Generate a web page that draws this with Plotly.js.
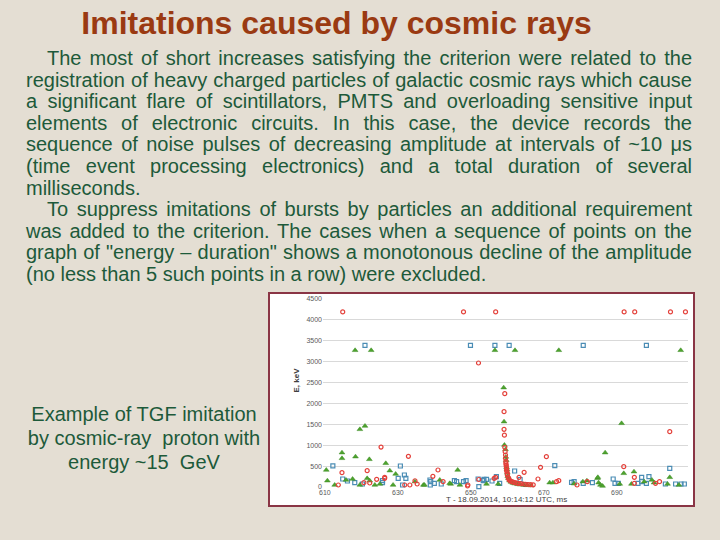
<!DOCTYPE html>
<html>
<head>
<meta charset="utf-8">
<script src="https://cdn.plot.ly/plotly-3.0.1.min.js"></script>
<style>
  html, body { margin:0; padding:0; }
  body { width:720px; height:540px; background:#e4ded3; position:relative; overflow:hidden;
         font-family:"Liberation Sans", Arial, sans-serif; }
  #title { position:absolute; left:0; top:5px; width:673px; text-align:center;
           font-size:32px; font-weight:bold; color:#9a3a12; line-height:36px; }
  #body { position:absolute; left:26px; top:48px; width:666px; color:#1d5a3a;
          font-size:20px; line-height:21.6px; }
  #body div { text-align:justify; text-align-last:justify; }
  #body div.last { text-align:left; text-align-last:left; }
  #body div.ind { padding-left:21px; }
  #caption { position:absolute; left:24px; top:402px; width:240px; text-align:center;
             color:#1d5a3a; font-size:20px; line-height:24px; }
  #frame { position:absolute; left:268px; top:292px; width:427px; height:215px;
           box-sizing:border-box; border:2px solid #8a3545; background:#fff; }
  #chart { width:423px; height:211px; }
</style>
</head>
<body>
<div id="title">Imitations caused by cosmic rays</div>
<div id="body">
  <div class="ind">The most of short increases satisfying the criterion were related to the</div>
  <div>registration of heavy charged particles of galactic cosmic rays which cause</div>
  <div>a significant flare of scintillators, PMTS and overloading sensitive input</div>
  <div>elements of electronic circuits. In this case, the device records the</div>
  <div>sequence of noise pulses of decreasing amplitude at intervals of ~10 μs</div>
  <div>(time event processing electronics) and a total duration of several</div>
  <div class="last">milliseconds.</div>
  <div class="ind">To suppress imitations of bursts by particles an additional requirement</div>
  <div>was added to the criterion. The cases when a sequence of points on the</div>
  <div>graph of "energy – duration" shows a monotonous decline of the amplitude</div>
  <div class="last">(no less than 5 such points in a row) were excluded.</div>
</div>
<div id="caption">Example of TGF imitation<br>by cosmic-ray&nbsp; proton with<br>energy ~15&nbsp; GeV</div>
<div id="frame"><div id="chart"></div></div>
<script>
// Red circles
const redX = [614.9,648,656.8,692,694.9,704.7,708.8,652.1,659.3,
  659.1,659.1,659.2,659.3,659.4,659.5,659.5,659.6,659.7,659.8,659.8,659.9,660,660,660.2,660.4,660.5,660.8,661.2,661.6,662.1,662.6,663,663.7,664.4,665,665.7,666.4,667.1,659.6,659.7,
  664.6,663.2,669.1,670.7,668.4,673.5,674.1,679.1,681.9,691.9,694.8,694.8,700.6,701.7,704.5,656.4,656.8,652.2,
  614.7,613.7,621.6,620.7,622.3,624.2,626.4,626.4,625.4,632.9,631.9,633.3,635.3,634.7,639.6,641,642.4,649.1,649.2];
const redY = [4190,4190,4190,4190,4190,4190,4190,2968,2235,
  1803,1380,1240,950,845,766,687,607,527,447,400,367,320,287,232,200,168,145,128,115,104,95,88,80,72,66,60,56,52,560,490,
  351,232,471,726,191,128,151,48,128,487,232,88,88,128,1325,207,230,180,
  343,48,391,104,96,184,207,232,955,735,48,48,72,150,255,407,128,24,48];
// Green triangles
const greenX = [618.3,622.7,656.6,662.1,674.1,707.5,659,
  659.1,659.2,659.5,659.6,659.7,659.8,659.9,660,660.1,660.3,660.6,661,661.5,662,662.8,663.5,664.5,665.5,666.5,
  691.3,686.8,691.9,694.7,704.5,684.7,685,685.5,686.1,690.8,694,697.5,699.6,700.2,703.9,707,671.6,672.5,680.7,681.8,684.8,678.3,657.5,
  610.4,610.7,614.7,614.7,618.4,619.6,621,622.2,626.7,627.8,629.4,646.4,612.7,615.8,617.6,619.6,621.6,622.3,623.7,625.1,628.7,634.7,637,641.5,644.5,647,654.3,637.3,644.2];
const greenY = [3272,3272,3272,3272,3272,3272,2378,
  1564,1005,900,720,640,470,420,340,260,210,150,120,96,80,64,56,48,40,36,
  1524,822,327,367,232,207,104,48,24,72,72,128,168,104,72,48,104,104,128,151,232,80,72,
  407,151,822,686,726,1380,1460,662,567,391,311,407,48,168,191,48,207,151,48,72,48,128,48,168,72,48,72,48,88];
// Blue squares
const blueX = [621,649.9,656.6,660.5,680.8,698.1,
  612.2,630.7,631.8,614.9,616.2,618.2,620.3,625.8,625.8,630.1,631.3,632.2,638.8,639,640,645.5,646.1,648,648.7,652,652.2,653.4,653.6,654.3,655.8,657,657.9,641.9,638.9,
  662,673,704.5,677.6,678.3,680.8,683.3,689,689.5,690.4,695.8,696.8,696.8,698.8,698.1,703.3,706.1,707.6,708.5,663.5,665];
const blueY = [3392,3392,3392,3392,3392,3392,
  507,503,287,191,144,104,72,104,151,207,48,207,168,128,88,151,128,128,151,191,8,151,184,184,144,247,88,72,48,
  383,511,447,112,128,88,104,191,88,88,88,128,232,247,88,72,72,72,72,180,60];
const xTicks = [610,630,650,670,690];
const yTicks = [0,500,1000,1500,2000,2500,3000,3500,4000,4500];
const xTitle = "T - 18.09.2014, 10:14:12 UTC, ms";
const yTitle = "E, keV";

const traces = [
  {x: blueX, y: blueY, type:'scatter', mode:'markers', cliponaxis:false,
   marker:{symbol:'square-open', size:4, color:'#4b8db5', line:{width:1.2, color:'#4b8db5'}}},
  {x: greenX, y: greenY, type:'scatter', mode:'markers', cliponaxis:false,
   marker:{symbol:'triangle-up', size:5, color:'#4ea32e', line:{width:0.5, color:'#3a8a22'}}},
  {x: redX, y: redY, type:'scatter', mode:'markers', cliponaxis:false,
   marker:{symbol:'circle-open', size:4, color:'#e4403a', line:{width:1.2, color:'#e4403a'}}}
];
const layout = {
  width:423, height:211,
  margin:{l:53, r:5, t:5, b:18},
  paper_bgcolor:'#ffffff', plot_bgcolor:'#ffffff',
  showlegend:false,
  font:{family:'"Liberation Sans", Arial, sans-serif', color:'#595959', size:7},
  xaxis:{range:[609.5,709.5], tickvals:xTicks, ticktext:xTicks.map(String), showgrid:false,
         zeroline:false, showline:false, ticks:'', tickfont:{size:7, color:'#595959'}},
  yaxis:{range:[0,4500], tickvals:yTicks, ticktext:yTicks.map(String), showgrid:true,
         gridcolor:'#d9d9d9', gridwidth:1, zeroline:false, showline:false, ticks:'',
         tickfont:{size:7, color:'#595959'}},
  annotations:[
    {text:'<b>'+yTitle+'</b>', xref:'paper', yref:'paper', x:-0.09, y:0.57, showarrow:false,
     textangle:-90, font:{size:8, color:'#404040'}},
    {text:xTitle, xref:'paper', yref:'paper', x:0.504, y:-0.064, yanchor:'middle', showarrow:false,
     font:{size:8, color:'#404040'}}
  ]
};
Plotly.newPlot('chart', traces, layout, {staticPlot:true, displayModeBar:false});
</script>
</body>
</html>
